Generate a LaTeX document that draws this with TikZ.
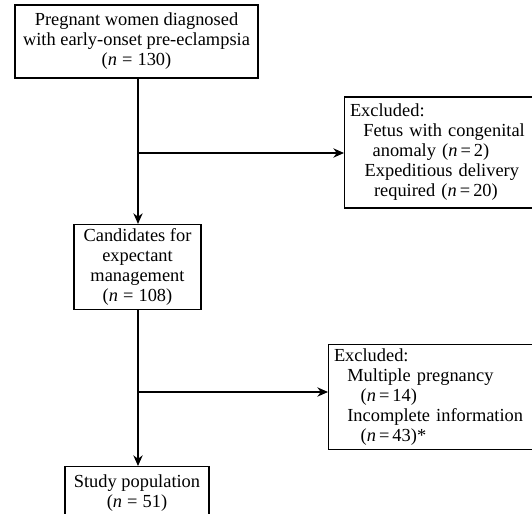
\documentclass[tikz,border=0pt]{standalone}
\usepackage{fontspec}
\setmainfont{Liberation Serif}
\usetikzlibrary{arrows.meta}
\tikzset{
  flowbox/.style={draw, line width=1pt, inner sep=3pt, font=\fontsize{13.8}{15}\selectfont},
  exclbox/.style={flowbox, align=left, anchor=west, text width=170pt, inner xsep=4pt},
}
\begin{document}
\begin{tikzpicture}[x=0.75pt, y=-0.75pt, >={Stealth[length=8pt,width=7pt]}, line width=1pt]
\useasboundingbox (0,0) rectangle (532,514);
% main column
\node[flowbox, align=center, minimum width=182.25pt, minimum height=54.75pt] (women) at (136.5,41.5)
  {Pregnant women diagnosed\\with early-onset pre-eclampsia\\(\textit{n}\;=\;130)};
\node[flowbox, align=center, minimum width=95.25pt, minimum height=61.5pt] (cand) at (137.5,267)
  {Candidates for\\expectant\\management\\(\textit{n}\;=\;108)};
\node[flowbox, align=center, minimum width=108pt, minimum height=39pt, anchor=north] (study) at (137,466)
  {Study population\\(\textit{n}\;=\;51)};
% excluded boxes
\node[exclbox, minimum height=83.25pt] (excl1) at (344,152.5)
  {Excluded:\\\hspace*{10pt}Fetus with congenital\\\hspace*{17pt}anomaly (\textit{n}\,=\,2)\\\hspace*{11pt}Expeditious delivery\\\hspace*{18pt}required (\textit{n}\,=\,20)};
\node[exclbox, minimum height=75pt] (excl2) at (328,397)
  {Excluded:\\\hspace*{10pt}Multiple pregnancy\\\hspace*{20pt}(\textit{n}\,=\,14)\\\hspace*{10pt}Incomplete information\\\hspace*{20pt}(\textit{n}\,=\,43)*};
% connectors
\coordinate (j1) at (138,153);
\coordinate (j2) at (138,392);
\draw[->] (women.south -| j1) -- (cand.north -| j1);
\draw[->] (j1) -- (j1 -| excl1.west);
\draw[->] (cand.south -| j2) -- (study.north -| j2);
\draw[->] (j2) -- (j2 -| excl2.west);
\end{tikzpicture}
\end{document}
